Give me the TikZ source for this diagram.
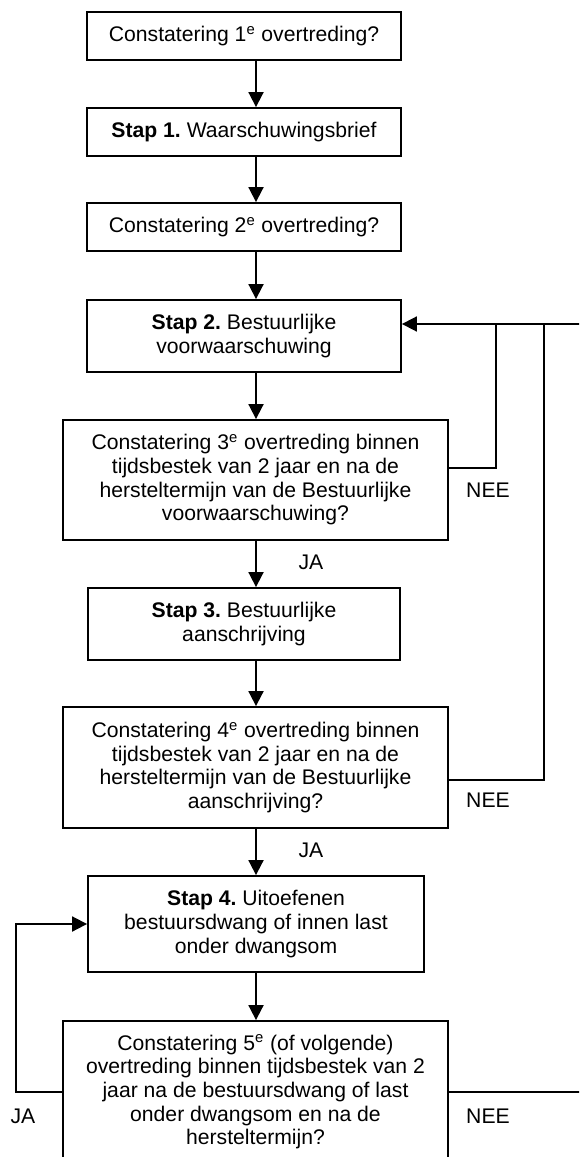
\documentclass[tikz,border=0pt]{standalone}
\usepackage{fontspec}
\setmainfont{Liberation Sans}
\usetikzlibrary{arrows.meta}
\frenchspacing

\begin{document}
\begin{tikzpicture}[x=0.6pt,y=-0.6pt,
    box/.style={draw,line width=1.1pt,inner sep=0pt,align=center,font=\fontsize{12.7}{14.2}\selectfont},
    boxw/.style={minimum width=#1*0.6pt},
    boxh/.style={minimum height=#1*0.6pt},
    arr/.style={line width=1.1pt,-{Triangle[width=9pt,length=9pt]}},
    lnk/.style={line width=1.1pt},
    lbl/.style={inner sep=0pt,font=\fontsize{12.7}{14.2}\selectfont}]
    \useasboundingbox (0,0) rectangle (579,1157);
    \clip (0,0) rectangle (579,1157);
    % boxes, top to bottom
    \node[box,boxw=314,boxh=48] (c1) at (244,36) {Constatering 1\textsuperscript{e} overtreding?};
    \node[box,boxw=314,boxh=48] (s1) at (244,132) {\textbf{Stap 1.} Waarschuwingsbrief};
    \node[box,boxw=314,boxh=48] (c2) at (244,227) {Constatering 2\textsuperscript{e} overtreding?};
    \node[box,boxw=314,boxh=72] (s2) at (244,336) {\textbf{Stap 2.} Bestuurlijke\\voorwaarschuwing};
    \node[box,boxw=385,boxh=120] (c3) at (255.5,480) {Constatering 3\textsuperscript{e} overtreding binnen\\tijdsbestek van 2 jaar en na de\\hersteltermijn van de Bestuurlijke\\voorwaarschuwing?};
    \node[box,boxw=312,boxh=72] (s3) at (244,624) {\textbf{Stap 3.} Bestuurlijke\\aanschrijving};
    \node[box,boxw=385,boxh=121] (c4) at (255.5,767.5) {Constatering 4\textsuperscript{e} overtreding binnen\\tijdsbestek van 2 jaar en na de\\hersteltermijn van de Bestuurlijke\\aanschrijving?};
    \node[box,boxw=336,boxh=96] (s4) at (256,924) {\textbf{Stap 4.} Uitoefenen\\bestuursdwang of innen last\\onder dwangsom};
    \node[box,boxw=385,boxh=142] (c5) at (255.5,1092) {Constatering 5\textsuperscript{e} (of volgende)\\overtreding binnen tijdsbestek van 2\\jaar na de bestuursdwang of last\\onder dwangsom en na de\\hersteltermijn?};
    % main line
    \coordinate (ax) at (256,0);
    \foreach \a/\b in {c1/s1,s1/c2,c2/s2,s2/c3,c3/s3,s3/c4,c4/s4,s4/c5}
        \draw[arr] (\a.south -| ax) -- (\b.north -| ax);
    % NEE loops back to stap 2
    \coordinate (re) at (590,324);
    \coordinate (n3) at (496,468);
    \coordinate (n4) at (544,780);
    \coordinate (n5) at (590,1092);
    \draw[arr] (re) -- (s2.east |- re);
    \draw[lnk] (c3.east |- n3) -- (n3) -- (n3 |- re);
    \draw[lnk] (c4.east |- n4) -- (n4) -- (n4 |- re);
    \draw[lnk] (c5.east |- n5) -- (n5);
    % JA loop back to stap 4
    \coordinate (j5) at (16,1092);
    \draw[arr] (c5.west) -- (j5) -- (j5 |- s4.west) -- (s4.west);
    % labels
    \node[lbl] (nee1) at (488,490) {NEE};
    \node[lbl] (ja1) at (311,562) {JA};
    \node[lbl] (nee2) at (488,800) {NEE};
    \node[lbl] (ja2) at (311,850) {JA};
    \node[lbl] (ja3) at (23,1116) {JA};
    \node[lbl] (nee3) at (488,1116) {NEE};
\end{tikzpicture}
\end{document}
